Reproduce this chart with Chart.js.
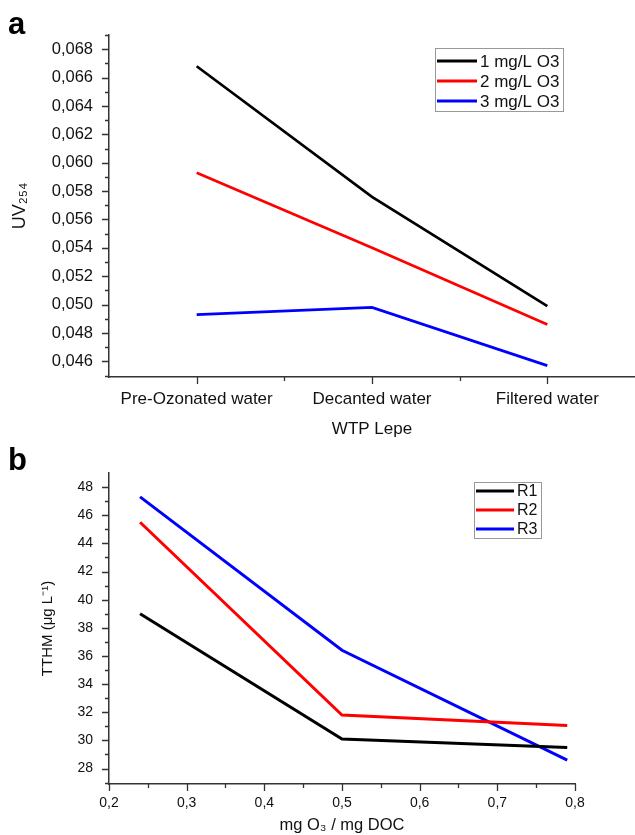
<!DOCTYPE html>
<html>
<head>
<meta charset="utf-8">
<script src="https://cdn.jsdelivr.net/npm/chart.js@4"></script>
<style>
  body { margin: 0; background: #fff; width: 635px; height: 835px; position: relative; overflow: hidden; font-family: "Liberation Sans", Arial, sans-serif; }
  .wrap { position: absolute; left: 0; }
  .panel { position: absolute; left: 8px; font-weight: bold; font-size: 31px; line-height: 31px; color: #000; }
</style>
</head>
<body>
<div class="wrap" style="top:0"><canvas id="chartA" width="635" height="440"></canvas></div>
<div class="wrap" style="top:440px"><canvas id="chartB" width="635" height="395"></canvas></div>
<div class="panel" style="top:8px">a</div>
<div class="panel" style="top:444px">b</div>
<script>
// panel a : UV254 along the treatment line
const stages = ['Pre-Ozonated water', 'Decanted water', 'Filtered water'];
const dose1 = [0.0668, 0.0576, 0.0499];
const dose2 = [0.0593, 0.0540, 0.0486];
const dose3 = [0.0493, 0.0498, 0.0457];
const uvTicks = [0.046, 0.048, 0.050, 0.052, 0.054, 0.056, 0.058, 0.060, 0.062, 0.064, 0.066, 0.068];

// panel b : TTHM vs ozone dose
const ozoneRatio = [0.24, 0.5, 0.79];
const r1 = [39.0, 30.1, 29.5];
const r2 = [45.5, 31.8, 31.05];
const r3 = [47.3, 36.4, 28.6];
const tthmTicks = [28, 30, 32, 34, 36, 38, 40, 42, 44, 46, 48];
const ratioTicks = [0.2, 0.3, 0.4, 0.5, 0.6, 0.7, 0.8];

const FONT = '"Liberation Sans", Arial, sans-serif';
const AXIS = '#333';

function midpoints(arr, extraEnd) {
  const out = [];
  for (let i = 0; i < arr.length - 1; i++) out.push((arr[i] + arr[i + 1]) / 2);
  if (extraEnd) out.push(arr[arr.length - 1] + (arr[1] - arr[0]) / 2);
  return out;
}

// outward tick marks, major and minor
const tickMarks = {
  id: 'tickMarks',
  afterDraw(chart, args, opts) {
    const ctx = chart.ctx;
    const x = chart.scales.x, y = chart.scales.y;
    ctx.save();
    ctx.strokeStyle = AXIS;
    ctx.lineWidth = 1.3;
    ctx.beginPath();
    opts.yMajor.forEach(v => { const p = Math.round(y.getPixelForValue(v)) + 0.5; ctx.moveTo(x.left - 7, p); ctx.lineTo(x.left, p); });
    opts.yMinor.forEach(v => { const p = Math.round(y.getPixelForValue(v)) + 0.5; ctx.moveTo(x.left - 4, p); ctx.lineTo(x.left, p); });
    opts.xMajor.forEach(v => { const p = Math.round(x.getPixelForValue(v)) + 0.5; ctx.moveTo(p, y.bottom); ctx.lineTo(p, y.bottom + 7); });
    opts.xMinor.forEach(v => { const p = Math.round(x.getPixelForValue(v)) + 0.5; ctx.moveTo(p, y.bottom); ctx.lineTo(p, y.bottom + 4); });
    ctx.stroke();
    ctx.restore();
  }
};

// boxed legend inside the plot, like the original
const boxLegend = {
  id: 'boxLegend',
  afterDraw(chart, args, o) {
    const ctx = chart.ctx;
    ctx.save();
    ctx.strokeStyle = '#999';
    ctx.lineWidth = 1;
    ctx.strokeRect(o.x + 0.5, o.y + 0.5, o.w, o.h);
    ctx.font = o.fontSize + 'px ' + FONT;
    ctx.textBaseline = 'middle';
    ctx.fillStyle = '#111';
    chart.data.datasets.forEach((ds, i) => {
      const ly = o.y + o.first + i * o.row;
      ctx.strokeStyle = ds.borderColor;
      ctx.lineWidth = 3;
      ctx.beginPath();
      ctx.moveTo(o.x + 2, ly);
      ctx.lineTo(o.x + 2 + o.lineLen, ly);
      ctx.stroke();
      ctx.fillText(ds.label, o.x + 5 + o.lineLen, ly + 1);
    });
    ctx.restore();
  }
};

Chart.register(tickMarks, boxLegend);

function lineSet(label, data, color, width) {
  return { label: label, data: data, borderColor: color, backgroundColor: color, borderWidth: width, pointRadius: 0, tension: 0, fill: false };
}

new Chart(document.getElementById('chartA'), {
  type: 'line',
  data: {
    labels: stages,
    datasets: [
      lineSet('1 mg/L O3', dose1, '#000000', 2.7),
      lineSet('2 mg/L O3', dose2, '#ff0000', 2.7),
      lineSet('3 mg/L O3', dose3, '#0000ff', 2.7)
    ]
  },
  options: {
    responsive: false,
    animation: false,
    devicePixelRatio: 1,
    layout: { padding: { top: 35, right: 0, bottom: 0, left: 0 } },
    plugins: {
      legend: { display: false },
      tooltip: { enabled: false },
      tickMarks: { yMajor: uvTicks, yMinor: midpoints(uvTicks, true).concat([0.045]), xMajor: [0, 1, 2], xMinor: [0.5, 1.5] },
      boxLegend: { x: 435, y: 48, w: 128, h: 63, first: 13, row: 20, lineLen: 40, fontSize: 17 }
    },
    scales: {
      x: {
        type: 'category',
        offset: true,
        grid: { display: false, drawTicks: false },
        border: { display: true, color: AXIS, width: 1.5 },
        ticks: { padding: 12, color: '#111', font: { family: FONT, size: 17 } },
        title: { display: true, text: 'WTP Lepe', color: '#111', font: { family: FONT, size: 17 }, padding: { top: 4, bottom: 0 } },
        afterFit: s => { s.height = 63; }
      },
      y: {
        min: 0.0449,
        max: 0.0690,
        grid: { display: false, drawTicks: false },
        border: { display: true, color: AXIS, width: 1.5 },
        afterBuildTicks: s => { s.ticks = uvTicks.map(v => ({ value: v })); },
        ticks: { padding: 16, color: '#111', font: { family: FONT, size: 16.5 }, callback: v => v.toFixed(3).replace('.', ',') },
        title: { display: true, text: 'UV₂₅₄', color: '#111', font: { family: FONT, size: 18 }, padding: { top: 9, bottom: 0 } },
        afterFit: s => { s.width = 109; }
      }
    }
  }
});

new Chart(document.getElementById('chartB'), {
  type: 'line',
  data: {
    datasets: [
      lineSet('R1', r1.map((v, i) => ({ x: ozoneRatio[i], y: v })), '#000000', 3),
      lineSet('R2', r2.map((v, i) => ({ x: ozoneRatio[i], y: v })), '#ff0000', 3),
      lineSet('R3', r3.map((v, i) => ({ x: ozoneRatio[i], y: v })), '#0000ff', 3)
    ]
  },
  options: {
    responsive: false,
    animation: false,
    devicePixelRatio: 1,
    layout: { padding: { top: 33, right: 60, bottom: 0, left: 0 } },
    plugins: {
      legend: { display: false },
      tooltip: { enabled: false },
      tickMarks: { yMajor: tthmTicks, yMinor: midpoints(tthmTicks, false).concat([27]), xMajor: ratioTicks, xMinor: midpoints(ratioTicks, false) },
      boxLegend: { x: 474, y: 42, w: 67, h: 56, first: 9, row: 19, lineLen: 38, fontSize: 16 }
    },
    scales: {
      x: {
        type: 'linear',
        min: 0.2,
        max: 0.8,
        grid: { display: false, drawTicks: false },
        border: { display: true, color: AXIS, width: 1.5 },
        afterBuildTicks: s => { s.ticks = ratioTicks.map(v => ({ value: v })); },
        ticks: { padding: 11, color: '#111', font: { family: FONT, size: 14 }, callback: v => v.toFixed(1).replace('.', ',') },
        title: { display: true, text: 'mg O₃ / mg DOC', color: '#111', font: { family: FONT, size: 16.5 }, padding: { top: 0, bottom: 0 } },
        afterFit: s => { s.height = 51; }
      },
      y: {
        min: 26.9,
        max: 49.0,
        grid: { display: false, drawTicks: false },
        border: { display: true, color: AXIS, width: 1.5 },
        afterBuildTicks: s => { s.ticks = tthmTicks.map(v => ({ value: v })); },
        ticks: { padding: 16, color: '#111', font: { family: FONT, size: 14 }, callback: v => String(v) },
        title: { display: true, text: 'TTHM (μg L⁻¹)', color: '#111', font: { family: FONT, size: 15 }, padding: { top: 39, bottom: 0 } },
        afterFit: s => { s.width = 109; }
      }
    }
  }
});
</script>
</body>
</html>
